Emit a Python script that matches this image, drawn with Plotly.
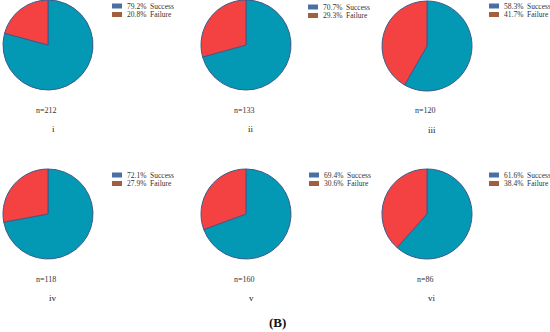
import plotly.graph_objects as go

panels = ["i", "ii", "iii", "iv", "v", "vi"]
n_values = [212, 133, 120, 118, 160, 86]
success_pct = [79.2, 70.7, 58.3, 72.1, 69.4, 61.6]
failure_pct = [20.8, 29.3, 41.7, 27.9, 30.6, 38.4]
categories = ["Success", "Failure"]

W, H = 550, 332
pie_colors = ["#0399b5", "#f44141"]
swatch_colors = ["#4a6fa3", "#a0603c"]
serif = "Liberation Serif, Times New Roman, serif"

# pixel layout (centers) for each panel
cx = [48, 246, 427, 48, 246, 427]
cy = [45, 45, 46, 214, 214, 214]
R = 45
legend_x = [112, 308, 489, 112, 309, 489]
legend_y = [6, 7, 6, 175, 175, 175]

def px(x):
    return x / W

def py(y):
    return 1 - y / H

fig = go.Figure()
shapes = []
annotations = []
for k in range(6):
    fig.add_trace(go.Pie(
        labels=categories,
        values=[success_pct[k], failure_pct[k]],
        sort=False,
        direction="clockwise",
        rotation=0,
        textinfo="none",
        hoverinfo="label+percent",
        marker=dict(colors=pie_colors, line=dict(color="#3e5a88", width=1)),
        domain=dict(x=[px(cx[k] - R), px(cx[k] + R)], y=[py(cy[k] + R), py(cy[k] - R)]),
        showlegend=False,
    ))
    vals = [success_pct[k], failure_pct[k]]
    for j in range(2):
        yy = legend_y[k] + j * 8.5
        shapes.append(dict(type="rect", xref="paper", yref="paper",
                           x0=px(legend_x[k]), x1=px(legend_x[k] + 10),
                           y0=py(yy + 2.5), y1=py(yy - 2.5),
                           fillcolor=swatch_colors[j], line=dict(width=0)))
        annotations.append(dict(text=f"{vals[j]}%  {categories[j]}",
                                x=px(legend_x[k] + 13), y=py(yy), xref="paper", yref="paper",
                                xanchor="left", yanchor="middle", showarrow=False,
                                font=dict(family=serif, size=7.5, color="#333333")))
    annotations.append(dict(text=f"n={n_values[k]}", x=px(cx[k] - 2), y=py(cy[k] + 65),
                            xref="paper", yref="paper", xanchor="center", yanchor="middle",
                            showarrow=False, font=dict(family=serif, size=8, color="#333333")))
    annotations.append(dict(text=panels[k], x=px(cx[k] + 5), y=py(cy[k] + 84),
                            xref="paper", yref="paper", xanchor="center", yanchor="middle",
                            showarrow=False, font=dict(family=serif, size=9, color="#222222")))

annotations.append(dict(text="<b>(B)</b>", x=px(277), y=py(322), xref="paper", yref="paper",
                        xanchor="center", yanchor="middle", showarrow=False,
                        font=dict(family=serif, size=13, color="#111111")))

fig.update_layout(width=W, height=H, margin=dict(l=0, r=0, t=0, b=0),
                  paper_bgcolor="white", plot_bgcolor="white",
                  shapes=shapes, annotations=annotations)
fig.write_html("out.html", config={"displayModeBar": False},
               post_script="document.body.style.margin='0';document.body.style.overflow='hidden';")
